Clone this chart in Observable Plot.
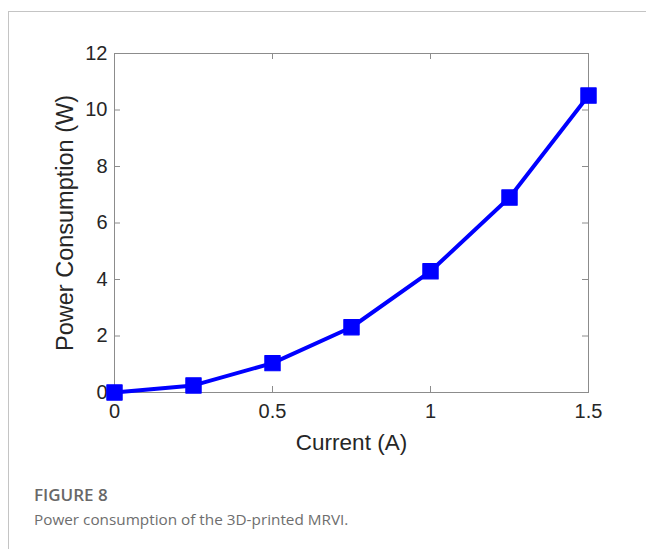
<!DOCTYPE html>
<html>
<head>
<meta charset="utf-8">
<script src="https://cdn.jsdelivr.net/npm/d3@7"></script>
<script src="https://cdn.jsdelivr.net/npm/@observablehq/plot@0.6"></script>
<style>
  html, body { margin: 0; padding: 0; background: #fff; }
  body { width: 646px; height: 549px; overflow: hidden; position: relative; }
  #card { position: absolute; left: 8px; top: 11px; right: 0; bottom: 0;
          border-top: 1px solid #c4c4c4; border-left: 1px solid #c4c4c4; }
  #chart { position: absolute; left: 0; top: 0; }
  #chart svg text { font-size: 20px; }
  #chart svg text.x-title { font-size: 22.5px; }
  #chart svg text.y-title { font-size: 23.5px; }
  #cap { position: absolute; left: 34px; top: 482px; font-family: "Open Sans", sans-serif; }
  #cap .t { font-size: 17px; font-weight: 600; color: #686868; line-height: 25px; }
  #cap .d { font-size: 15.3px; font-weight: 400; color: #6e6e6e; line-height: 25px; }
</style>
</head>
<body>
<div id="card"></div>
<div id="chart"></div>
<div id="cap">
  <div class="t">FIGURE 8</div>
  <div class="d">Power consumption of the 3D-printed MRVI.</div>
</div>
<script>
// Data
const current = [0, 0.25, 0.5, 0.75, 1.0, 1.25, 1.5];
const power   = [0, 0.25, 1.04, 2.31, 4.29, 6.90, 10.51];

const xTicks = [0, 0.5, 1, 1.5];
const yTicks = [0, 2, 4, 6, 8, 10, 12];
const xLabel = "Current (A)";
const yLabel = "Power Consumption (W)";

const data = current.map((c, i) => ({current: c, power: power[i]}));

const W = 646, H = 470;
const mL = 114, mR = 58, mT = 53, mB = 78;
const innerW = W - mL - mR, innerH = H - mT - mB;
const tickLen = 6;
const axisGray = "#8c8c8c";
const blue = "#0000ff";

const chart = Plot.plot({
  width: W,
  height: H,
  marginLeft: mL,
  marginRight: mR,
  marginTop: mT,
  marginBottom: mB,
  style: { fontFamily: "'Liberation Sans', Arial, sans-serif", background: "transparent", color: "#262626", overflow: "visible" },
  x: { domain: [0, 1.5] },
  y: { domain: [0, 12] },
  marks: [
    Plot.frame({ stroke: axisGray, strokeWidth: 1 }),
    // inward ticks, bottom & top
    Plot.tickX(xTicks, { x: d => d, insetTop: innerH - tickLen, stroke: axisGray }),
    Plot.tickX(xTicks, { x: d => d, insetBottom: innerH - tickLen, stroke: axisGray }),
    // inward ticks, left & right
    Plot.tickY(yTicks, { y: d => d, insetRight: innerW - tickLen, stroke: axisGray }),
    Plot.tickY(yTicks, { y: d => d, insetLeft: innerW - tickLen, stroke: axisGray }),
    Plot.axisX(xTicks, {
      anchor: "bottom", tickSize: 0, tickPadding: 11,
      tickFormat: d => String(d), label: xLabel, labelAnchor: "center",
      labelOffset: 57, labelArrow: "none"
    }),
    Plot.axisY(yTicks, {
      anchor: "left", tickSize: 0, tickPadding: 7,
      tickFormat: d => String(d), label: yLabel, labelAnchor: "center",
      labelOffset: 58, labelArrow: "none"
    }),
    Plot.line(data, { x: "current", y: "power", stroke: blue, strokeWidth: 4, strokeLinejoin: "round" }),
    Plot.dot(data, { x: "current", y: "power", symbol: "square", r: 8.6, fill: blue, stroke: blue, strokeWidth: 1.2, strokeLinejoin: "round" })
  ]
});

// mark the axis titles so CSS can size them
chart.querySelectorAll("text").forEach(t => {
  const s = t.textContent;
  if (s === xLabel) t.classList.add("x-title");
  if (s === yLabel) t.classList.add("y-title");
});
document.getElementById("chart").appendChild(chart);
</script>
</body>
</html>
